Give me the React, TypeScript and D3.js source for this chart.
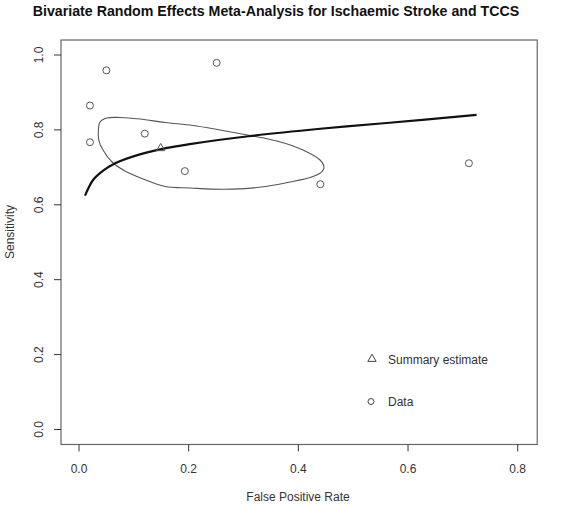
// Dependencies
import React, { useRef, useEffect } from "react";
import * as d3 from "d3";

// Study data (false positive rate, sensitivity)
const studyFpr = [0.05, 0.251, 0.02, 0.02, 0.12, 0.193, 0.44, 0.711];
const studySens = [0.959, 0.979, 0.865, 0.767, 0.79, 0.69, 0.655, 0.711];

// Summary estimate
const summaryFpr = 0.149;
const summarySens = 0.751;

// SROC curve
const srocFpr = [0.011, 0.026, 0.044, 0.066, 0.105, 0.148, 0.202, 0.309, 0.44, 0.561, 0.725];
const srocSens = [0.6245, 0.667, 0.691, 0.711, 0.732, 0.748, 0.762, 0.783, 0.803, 0.8185, 0.84];

// 95% confidence region
const regionFpr = [
  0.0352, 0.0383, 0.0511, 0.0748, 0.1112, 0.1568, 0.2079, 0.2571, 0.3118, 0.3611, 0.4085, 0.4395,
  0.4467, 0.4431, 0.4267, 0.3848, 0.3246, 0.2626, 0.2024, 0.1568, 0.1167, 0.0839, 0.0602, 0.0438, 0.0365,
];
const regionSens = [
  0.7864, 0.8211, 0.8318, 0.8331, 0.8291, 0.8198, 0.8117, 0.7997, 0.785, 0.7704, 0.7463, 0.7196,
  0.7009, 0.6889, 0.6756, 0.6609, 0.6462, 0.6414, 0.6449, 0.6489, 0.6689, 0.6903, 0.7143, 0.7463, 0.7703,
];

const xTicks = [0, 0.2, 0.4, 0.6, 0.8];
const yTicks = [0, 0.2, 0.4, 0.6, 0.8, 1.0];

const legendLabels = ["Summary estimate", "Data"];

const width = 566;
const height = 505;

const SrocPlot: React.FC = () => {
  const chartRef = useRef<SVGSVGElement | null>(null);

  useEffect(() => {
    if (!chartRef.current) return;
    const svg = d3.select(chartRef.current);
    svg.selectAll("*").remove();

    const font = "Liberation Sans, Arial, Helvetica, sans-serif";
    const ink = "#333";

    // Scales
    const xScale = d3.scaleLinear().domain([0, 0.8]).range([79, 517.7]);
    const yScale = d3.scaleLinear().domain([0, 1]).range([429.5, 55]);

    // Title
    svg
      .append("text")
      .attr("x", 276)
      .attr("y", 16)
      .attr("text-anchor", "middle")
      .attr("font-family", font)
      .attr("font-weight", "bold")
      .attr("font-size", 14.2)
      .attr("fill", "#111")
      .text("Bivariate Random Effects Meta-Analysis for Ischaemic Stroke and TCCS");

    // Plot box
    const x0 = xScale(-0.0328);
    const x1 = xScale(0.8356);
    const y0 = yScale(1.04);
    const y1 = yScale(-0.04);
    svg
      .append("rect")
      .attr("x", x0)
      .attr("y", y0)
      .attr("width", x1 - x0)
      .attr("height", y1 - y0)
      .attr("fill", "none")
      .attr("stroke", "#666")
      .attr("stroke-width", 1.2);

    // X axis
    const xAxis = svg.append("g").attr("class", "x-axis");
    xAxis
      .selectAll("line")
      .data(xTicks)
      .join("line")
      .attr("x1", (d) => xScale(d))
      .attr("x2", (d) => xScale(d))
      .attr("y1", y1)
      .attr("y2", y1 + 7)
      .attr("stroke", ink);
    xAxis
      .selectAll("text")
      .data(xTicks)
      .join("text")
      .attr("x", (d) => xScale(d))
      .attr("y", 473)
      .attr("text-anchor", "middle")
      .attr("font-family", font)
      .attr("font-size", 12)
      .attr("fill", ink)
      .text((d) => d3.format(".1f")(d));

    // Y axis
    const yAxis = svg.append("g").attr("class", "y-axis");
    yAxis
      .selectAll("line")
      .data(yTicks)
      .join("line")
      .attr("x1", x0 - 7)
      .attr("x2", x0)
      .attr("y1", (d) => yScale(d))
      .attr("y2", (d) => yScale(d))
      .attr("stroke", ink);
    yAxis
      .selectAll("text")
      .data(yTicks)
      .join("text")
      .attr("transform", (d) => `translate(43,${yScale(d)}) rotate(-90)`)
      .attr("text-anchor", "middle")
      .attr("font-family", font)
      .attr("font-size", 12)
      .attr("fill", ink)
      .text((d) => d3.format(".1f")(d));

    // Axis titles
    svg
      .append("text")
      .attr("x", 298)
      .attr("y", 501)
      .attr("text-anchor", "middle")
      .attr("font-family", font)
      .attr("font-size", 12)
      .attr("fill", ink)
      .text("False Positive Rate");
    svg
      .append("text")
      .attr("transform", "translate(14,232) rotate(-90)")
      .attr("text-anchor", "middle")
      .attr("font-family", font)
      .attr("font-size", 12)
      .attr("fill", ink)
      .text("Sensitivity");

    // Confidence region
    const region = regionFpr.map((f, i) => [xScale(f), yScale(regionSens[i])] as [number, number]);
    svg
      .append("path")
      .attr("d", d3.line().curve(d3.curveCatmullRomClosed)(region))
      .attr("fill", "none")
      .attr("stroke", "#555")
      .attr("stroke-width", 1.1);

    // SROC curve
    const sroc = srocFpr.map((f, i) => [xScale(f), yScale(srocSens[i])] as [number, number]);
    svg
      .append("path")
      .attr("d", d3.line().curve(d3.curveCatmullRom)(sroc))
      .attr("fill", "none")
      .attr("stroke", "#111")
      .attr("stroke-width", 2.2);

    // Study points
    svg
      .append("g")
      .selectAll("circle")
      .data(studyFpr)
      .join("circle")
      .attr("cx", (d) => xScale(d))
      .attr("cy", (_d, i) => yScale(studySens[i]))
      .attr("r", 3.5)
      .attr("fill", "none")
      .attr("stroke", "#555")
      .attr("stroke-width", 1);

    // Summary estimate
    const tri = d3.symbol().type(d3.symbolTriangle).size(30);
    svg
      .append("path")
      .attr("d", tri())
      .attr("transform", `translate(${xScale(summaryFpr)},${yScale(summarySens)})`)
      .attr("fill", "none")
      .attr("stroke", "#555")
      .attr("stroke-width", 1);

    // Legend
    const legend = svg.append("g").attr("class", "legend");
    legend
      .append("path")
      .attr("d", tri())
      .attr("transform", "translate(372,359)")
      .attr("fill", "none")
      .attr("stroke", "#444");
    legend
      .append("circle")
      .attr("cx", 371)
      .attr("cy", 401.5)
      .attr("r", 3)
      .attr("fill", "none")
      .attr("stroke", "#444");
    legend
      .selectAll("text")
      .data(legendLabels)
      .join("text")
      .attr("x", 388)
      .attr("y", (_d, i) => 363.5 + i * 42)
      .attr("font-family", font)
      .attr("font-size", 12)
      .attr("fill", ink)
      .text((d) => d);
  }, []);

  return (
    <svg
      ref={chartRef}
      width={width}
      height={height}
      style={{ position: "absolute", left: 0, top: 0, background: "white" }}
    />
  );
};

export default function App() {
  return <SrocPlot />;
}
